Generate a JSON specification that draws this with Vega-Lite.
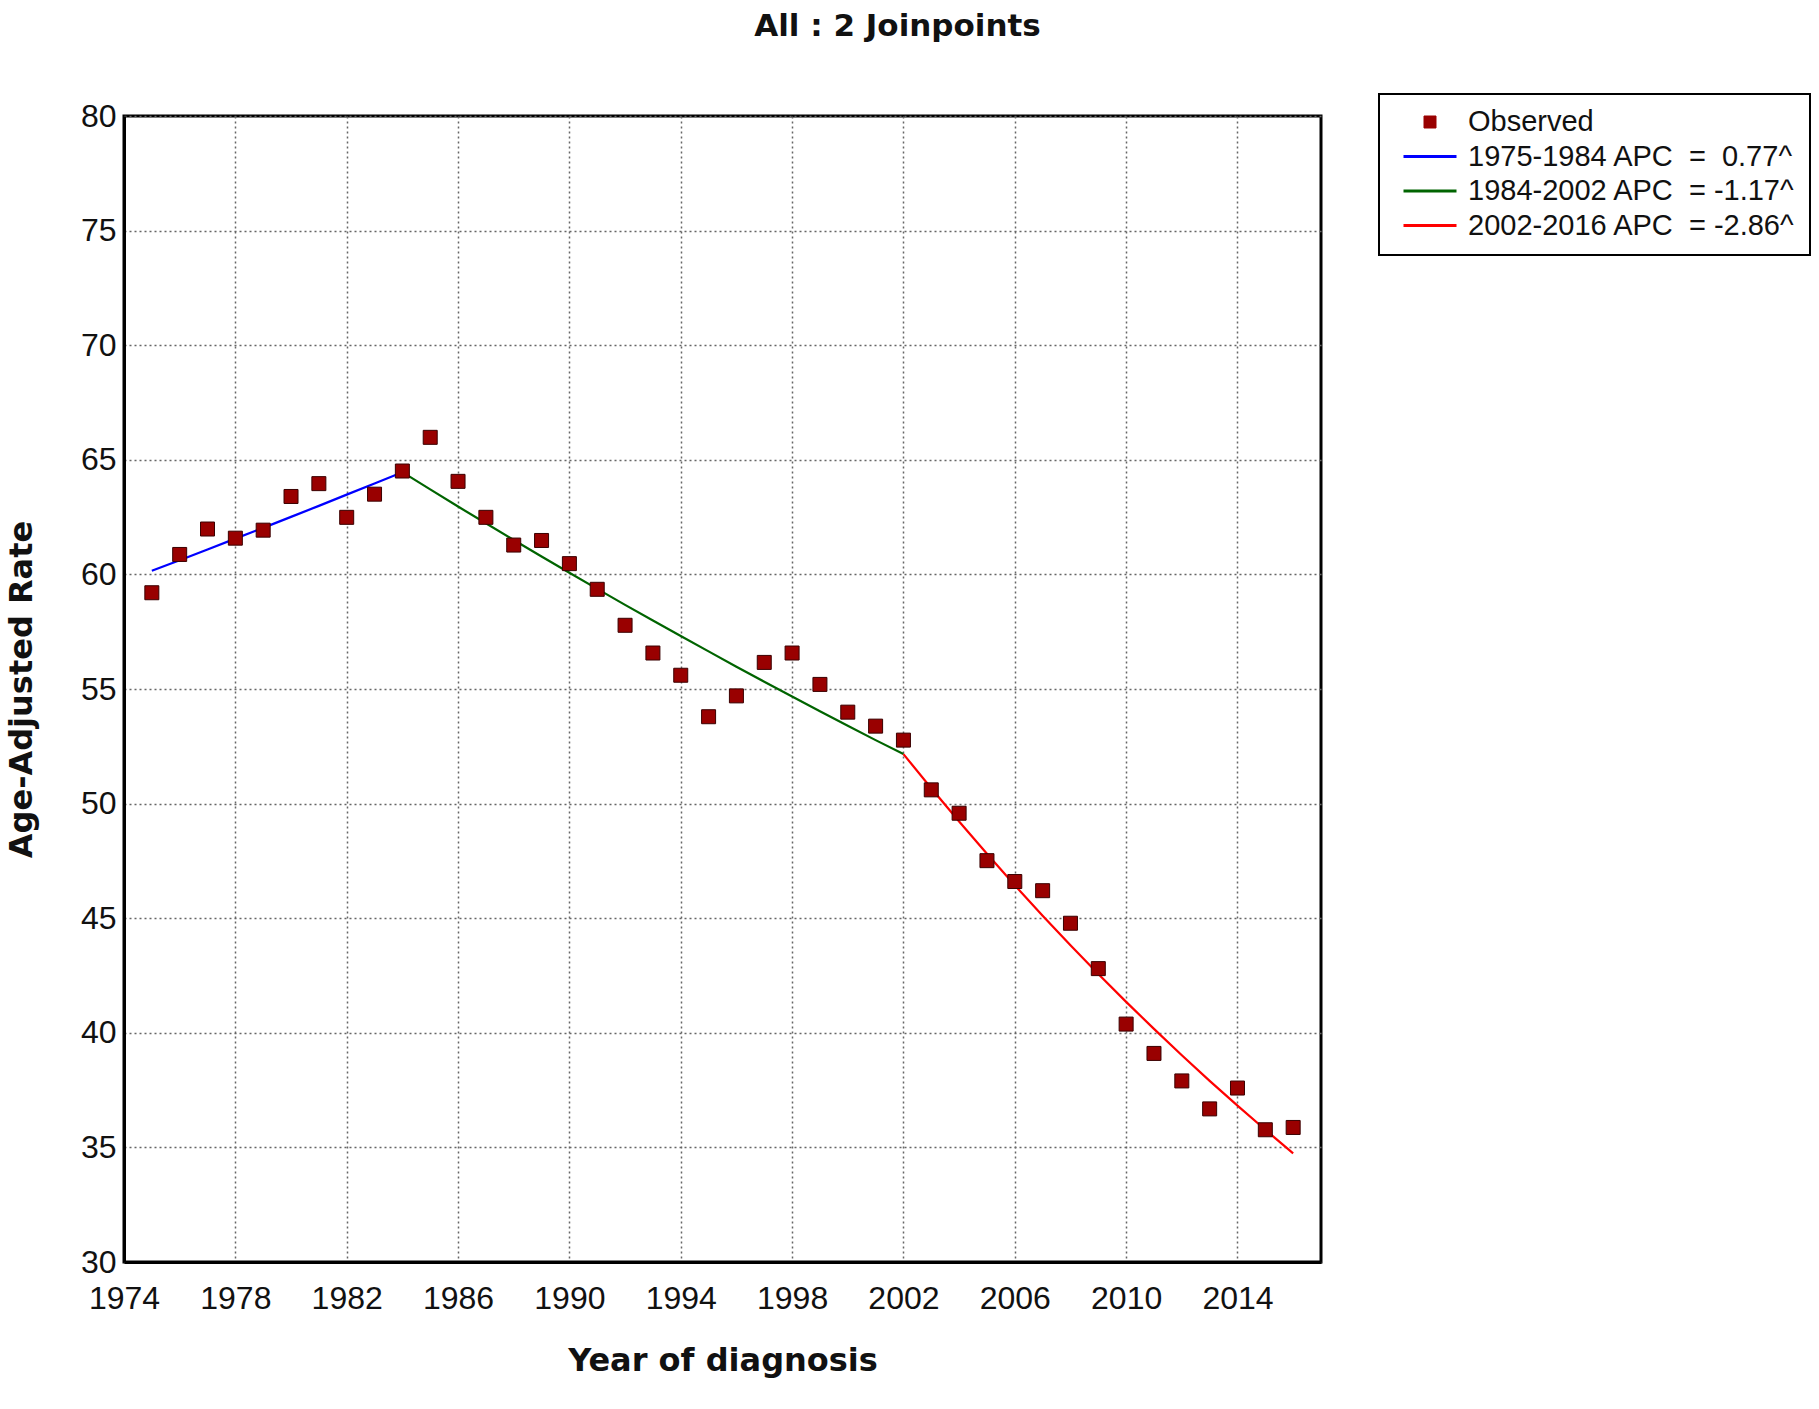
{
  "$schema": "https://vega.github.io/schema/vega-lite/v6.json",
  "width": 1197,
  "height": 1146,
  "autosize": {"type": "none"},
  "padding": {"left": 124, "top": 116, "right": 498, "bottom": 147},
  "background": "white",
  "title": {"text": "All : 2 Joinpoints", "font": "DejaVu Sans", "fontSize": 31, "fontWeight": "bold", "color": "#111", "anchor": "middle", "dx": 175, "offset": 50},
  "config": {
    "view": {"stroke": "#000", "strokeWidth": 3},
    "legend": {"strokeColor": "#000", "strokeWidth": 2, "fillColor": "#fff"},
    "axis": {
      "grid": true, "gridColor": "#666", "gridDash": [2, 3], "gridWidth": 1.5,
      "domainColor": "#000", "domainWidth": 3, "ticks": false,
      "labelFont": "Liberation Sans", "labelFontSize": 32, "labelColor": "#111",
      "titleFont": "DejaVu Sans", "titleFontSize": 32, "titleFontWeight": "bold", "titleColor": "#111"
    }
  },
  "data": {"values": [
    {"year": 1975, "rate": 59.2, "series": "Observed", "kind": "obs"},
    {"year": 1976, "rate": 60.87, "series": "Observed", "kind": "obs"},
    {"year": 1977, "rate": 61.98, "series": "Observed", "kind": "obs"},
    {"year": 1978, "rate": 61.58, "series": "Observed", "kind": "obs"},
    {"year": 1979, "rate": 61.93, "series": "Observed", "kind": "obs"},
    {"year": 1980, "rate": 63.4, "series": "Observed", "kind": "obs"},
    {"year": 1981, "rate": 63.96, "series": "Observed", "kind": "obs"},
    {"year": 1982, "rate": 62.49, "series": "Observed", "kind": "obs"},
    {"year": 1983, "rate": 63.5, "series": "Observed", "kind": "obs"},
    {"year": 1984, "rate": 64.51, "series": "Observed", "kind": "obs"},
    {"year": 1985, "rate": 65.98, "series": "Observed", "kind": "obs"},
    {"year": 1986, "rate": 64.06, "series": "Observed", "kind": "obs"},
    {"year": 1987, "rate": 62.49, "series": "Observed", "kind": "obs"},
    {"year": 1988, "rate": 61.28, "series": "Observed", "kind": "obs"},
    {"year": 1989, "rate": 61.48, "series": "Observed", "kind": "obs"},
    {"year": 1990, "rate": 60.47, "series": "Observed", "kind": "obs"},
    {"year": 1991, "rate": 59.35, "series": "Observed", "kind": "obs"},
    {"year": 1992, "rate": 57.78, "series": "Observed", "kind": "obs"},
    {"year": 1993, "rate": 56.57, "series": "Observed", "kind": "obs"},
    {"year": 1994, "rate": 55.6, "series": "Observed", "kind": "obs"},
    {"year": 1995, "rate": 53.79, "series": "Observed", "kind": "obs"},
    {"year": 1996, "rate": 54.7, "series": "Observed", "kind": "obs"},
    {"year": 1997, "rate": 56.16, "series": "Observed", "kind": "obs"},
    {"year": 1998, "rate": 56.57, "series": "Observed", "kind": "obs"},
    {"year": 1999, "rate": 55.2, "series": "Observed", "kind": "obs"},
    {"year": 2000, "rate": 53.99, "series": "Observed", "kind": "obs"},
    {"year": 2001, "rate": 53.38, "series": "Observed", "kind": "obs"},
    {"year": 2002, "rate": 52.77, "series": "Observed", "kind": "obs"},
    {"year": 2003, "rate": 50.6, "series": "Observed", "kind": "obs"},
    {"year": 2004, "rate": 49.58, "series": "Observed", "kind": "obs"},
    {"year": 2005, "rate": 47.51, "series": "Observed", "kind": "obs"},
    {"year": 2006, "rate": 46.6, "series": "Observed", "kind": "obs"},
    {"year": 2007, "rate": 46.2, "series": "Observed", "kind": "obs"},
    {"year": 2008, "rate": 44.78, "series": "Observed", "kind": "obs"},
    {"year": 2009, "rate": 42.8, "series": "Observed", "kind": "obs"},
    {"year": 2010, "rate": 40.38, "series": "Observed", "kind": "obs"},
    {"year": 2011, "rate": 39.1, "series": "Observed", "kind": "obs"},
    {"year": 2012, "rate": 37.9, "series": "Observed", "kind": "obs"},
    {"year": 2013, "rate": 36.68, "series": "Observed", "kind": "obs"},
    {"year": 2014, "rate": 37.59, "series": "Observed", "kind": "obs"},
    {"year": 2015, "rate": 35.77, "series": "Observed", "kind": "obs"},
    {"year": 2016, "rate": 35.87, "series": "Observed", "kind": "obs"},

    {"year": 1975, "rate": 60.16, "series": "1975-1984 APC\u00a0 =\u00a0 0.77^", "kind": "fit"},
    {"year": 1976, "rate": 60.62, "series": "1975-1984 APC\u00a0 =\u00a0 0.77^", "kind": "fit"},
    {"year": 1977, "rate": 61.09, "series": "1975-1984 APC\u00a0 =\u00a0 0.77^", "kind": "fit"},
    {"year": 1978, "rate": 61.56, "series": "1975-1984 APC\u00a0 =\u00a0 0.77^", "kind": "fit"},
    {"year": 1979, "rate": 62.03, "series": "1975-1984 APC\u00a0 =\u00a0 0.77^", "kind": "fit"},
    {"year": 1980, "rate": 62.51, "series": "1975-1984 APC\u00a0 =\u00a0 0.77^", "kind": "fit"},
    {"year": 1981, "rate": 62.99, "series": "1975-1984 APC\u00a0 =\u00a0 0.77^", "kind": "fit"},
    {"year": 1982, "rate": 63.48, "series": "1975-1984 APC\u00a0 =\u00a0 0.77^", "kind": "fit"},
    {"year": 1983, "rate": 63.97, "series": "1975-1984 APC\u00a0 =\u00a0 0.77^", "kind": "fit"},
    {"year": 1984, "rate": 64.46, "series": "1975-1984 APC\u00a0 =\u00a0 0.77^", "kind": "fit"},

    {"year": 1984, "rate": 64.46, "series": "1984-2002 APC\u00a0 = -1.17^", "kind": "fit"},
    {"year": 1985, "rate": 63.71, "series": "1984-2002 APC\u00a0 = -1.17^", "kind": "fit"},
    {"year": 1986, "rate": 62.96, "series": "1984-2002 APC\u00a0 = -1.17^", "kind": "fit"},
    {"year": 1987, "rate": 62.23, "series": "1984-2002 APC\u00a0 = -1.17^", "kind": "fit"},
    {"year": 1988, "rate": 61.5, "series": "1984-2002 APC\u00a0 = -1.17^", "kind": "fit"},
    {"year": 1989, "rate": 60.78, "series": "1984-2002 APC\u00a0 = -1.17^", "kind": "fit"},
    {"year": 1990, "rate": 60.07, "series": "1984-2002 APC\u00a0 = -1.17^", "kind": "fit"},
    {"year": 1991, "rate": 59.37, "series": "1984-2002 APC\u00a0 = -1.17^", "kind": "fit"},
    {"year": 1992, "rate": 58.67, "series": "1984-2002 APC\u00a0 = -1.17^", "kind": "fit"},
    {"year": 1993, "rate": 57.99, "series": "1984-2002 APC\u00a0 = -1.17^", "kind": "fit"},
    {"year": 1994, "rate": 57.31, "series": "1984-2002 APC\u00a0 = -1.17^", "kind": "fit"},
    {"year": 1995, "rate": 56.64, "series": "1984-2002 APC\u00a0 = -1.17^", "kind": "fit"},
    {"year": 1996, "rate": 55.97, "series": "1984-2002 APC\u00a0 = -1.17^", "kind": "fit"},
    {"year": 1997, "rate": 55.32, "series": "1984-2002 APC\u00a0 = -1.17^", "kind": "fit"},
    {"year": 1998, "rate": 54.67, "series": "1984-2002 APC\u00a0 = -1.17^", "kind": "fit"},
    {"year": 1999, "rate": 54.03, "series": "1984-2002 APC\u00a0 = -1.17^", "kind": "fit"},
    {"year": 2000, "rate": 53.4, "series": "1984-2002 APC\u00a0 = -1.17^", "kind": "fit"},
    {"year": 2001, "rate": 52.77, "series": "1984-2002 APC\u00a0 = -1.17^", "kind": "fit"},
    {"year": 2002, "rate": 52.16, "series": "1984-2002 APC\u00a0 = -1.17^", "kind": "fit"},

    {"year": 2002, "rate": 52.16, "series": "2002-2016 APC\u00a0 = -2.86^", "kind": "fit"},
    {"year": 2003, "rate": 50.67, "series": "2002-2016 APC\u00a0 = -2.86^", "kind": "fit"},
    {"year": 2004, "rate": 49.22, "series": "2002-2016 APC\u00a0 = -2.86^", "kind": "fit"},
    {"year": 2005, "rate": 47.81, "series": "2002-2016 APC\u00a0 = -2.86^", "kind": "fit"},
    {"year": 2006, "rate": 46.44, "series": "2002-2016 APC\u00a0 = -2.86^", "kind": "fit"},
    {"year": 2007, "rate": 45.11, "series": "2002-2016 APC\u00a0 = -2.86^", "kind": "fit"},
    {"year": 2008, "rate": 43.82, "series": "2002-2016 APC\u00a0 = -2.86^", "kind": "fit"},
    {"year": 2009, "rate": 42.57, "series": "2002-2016 APC\u00a0 = -2.86^", "kind": "fit"},
    {"year": 2010, "rate": 41.35, "series": "2002-2016 APC\u00a0 = -2.86^", "kind": "fit"},
    {"year": 2011, "rate": 40.17, "series": "2002-2016 APC\u00a0 = -2.86^", "kind": "fit"},
    {"year": 2012, "rate": 39.02, "series": "2002-2016 APC\u00a0 = -2.86^", "kind": "fit"},
    {"year": 2013, "rate": 37.9, "series": "2002-2016 APC\u00a0 = -2.86^", "kind": "fit"},
    {"year": 2014, "rate": 36.82, "series": "2002-2016 APC\u00a0 = -2.86^", "kind": "fit"},
    {"year": 2015, "rate": 35.77, "series": "2002-2016 APC\u00a0 = -2.86^", "kind": "fit"},
    {"year": 2016, "rate": 34.74, "series": "2002-2016 APC\u00a0 = -2.86^", "kind": "fit"}
  ]},
  "encoding": {
    "x": {"field": "year", "type": "quantitative",
      "scale": {"domain": [1974, 2017], "nice": false, "zero": false},
      "axis": {"values": [1974, 1978, 1982, 1986, 1990, 1994, 1998, 2002, 2006, 2010, 2014], "format": "d", "title": "Year of diagnosis", "labelFlush": false, "labelPadding": 21, "titlePadding": 31}},
    "y": {"field": "rate", "type": "quantitative",
      "scale": {"domain": [30, 80], "nice": false, "zero": false},
      "axis": {"values": [30, 35, 40, 45, 50, 55, 60, 65, 70, 75, 80], "title": "Age-Adjusted Rate", "labelFlush": false, "labelPadding": 8, "titlePadding": 42}},
    "color": {"field": "series", "type": "nominal",
      "scale": {"domain": ["Observed", "1975-1984 APC\u00a0 =\u00a0 0.77^", "1984-2002 APC\u00a0 = -1.17^", "2002-2016 APC\u00a0 = -2.86^"],
                "range": ["#990000", "#0000ff", "#006400", "#ff0000"]},
      "legend": {"title": null, "orient": "none", "legendX": 1255, "legendY": -22,
        "padding": 14,
        "labelFont": "Liberation Sans", "labelFontSize": 29, "labelColor": "#111", "labelLimit": 600,
        "symbolType": "stroke", "symbolSize": 2809, "symbolStrokeWidth": 3, "labelOffset": 12,
        "rowPadding": 5.5, "clipHeight": 28,
        "encode": {
          "symbols": {"update": {
            "x": {"value": 37},
            "shape": {"signal": "datum.value === 'Observed' ? 'square' : 'stroke'"},
            "size": {"signal": "datum.value === 'Observed' ? 144 : 2809"},
            "fill": {"signal": "scale('color', datum.value)"},
            "stroke": {"signal": "datum.value === 'Observed' ? '#3a0000' : scale('color', datum.value)"},
            "strokeWidth": {"signal": "datum.value === 'Observed' ? 1 : 3"},
            "opacity": {"value": 1}
          }},
          "labels": {"update": {"x": {"value": 75}}}
        }}}
  },
  "layer": [
    {"transform": [{"filter": "datum.kind === 'fit'"}],
     "mark": {"type": "line", "strokeWidth": 2.2},
     "encoding": {"detail": {"field": "series"}}},
    {"transform": [{"filter": "datum.kind === 'obs'"}],
     "mark": {"type": "point", "shape": "square", "filled": true, "size": 196, "stroke": "#3a0000", "strokeWidth": 1, "opacity": 1}}
  ]
}
